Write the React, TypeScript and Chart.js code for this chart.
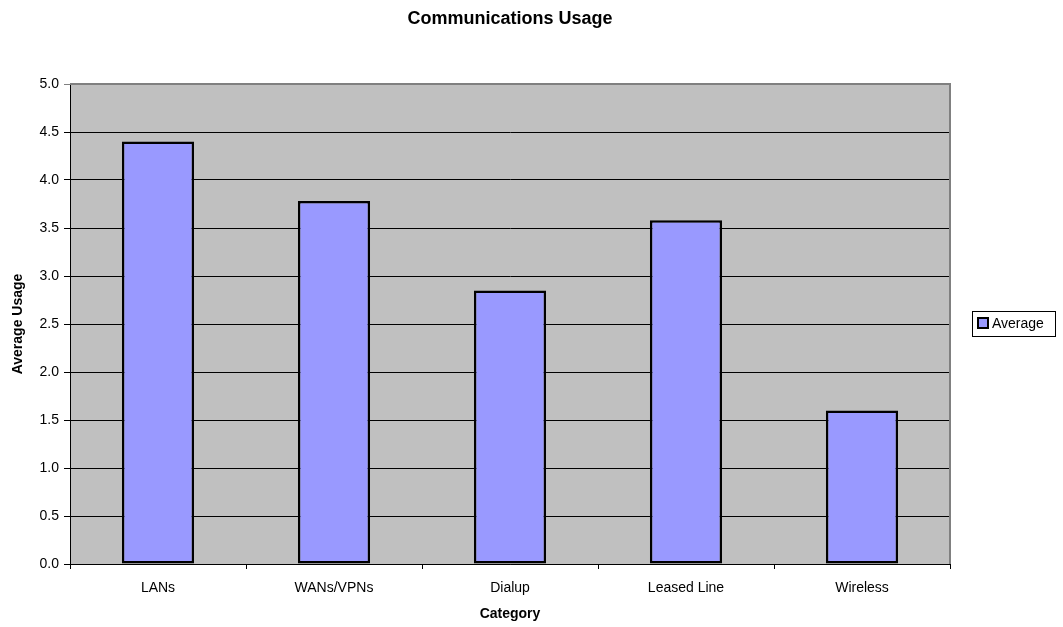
import React, { useEffect, useRef } from "react";
import { Chart, registerables } from "chart.js";

Chart.register(...registerables);

const categories = ["LANs", "WANs/VPNs", "Dialup", "Leased Line", "Wireless"];
const averageValues = [4.4, 3.78, 2.85, 3.58, 1.6];
const seriesLabel = "Average";
const chartTitle = "Communications Usage";
const xTitle = "Category";
const yTitle = "Average Usage";

const FONT = "'Liberation Sans', Arial, sans-serif";

const plotBackground = {
  id: "plotBackground",
  beforeDraw(chart: any) {
    const { ctx, chartArea } = chart;
    ctx.save();
    ctx.fillStyle = "#C0C0C0";
    ctx.fillRect(chartArea.left, chartArea.top, chartArea.right - chartArea.left, chartArea.bottom - chartArea.top);
    ctx.restore();
  },
  afterDatasetsDraw(chart: any) {
    const { ctx, chartArea } = chart;
    ctx.save();
    ctx.strokeStyle = "#808080";
    ctx.lineWidth = 2;
    ctx.beginPath();
    ctx.moveTo(chartArea.left, chartArea.top);
    ctx.lineTo(chartArea.right, chartArea.top);
    ctx.lineTo(chartArea.right, chartArea.bottom);
    ctx.stroke();
    ctx.restore();
  },
};

const boxedLegend = {
  id: "boxedLegend",
  afterDraw(chart: any) {
    const { ctx } = chart;
    const ds = chart.data.datasets[0];
    ctx.save();
    ctx.strokeStyle = "#000";
    ctx.lineWidth = 1;
    ctx.strokeRect(972.5, 311.5, 83, 25);
    ctx.fillStyle = ds.backgroundColor;
    ctx.fillRect(978, 318, 10, 10);
    ctx.lineWidth = 2;
    ctx.strokeRect(978, 318, 10, 10);
    ctx.fillStyle = "#000";
    ctx.font = `14px ${FONT}`;
    ctx.textBaseline = "middle";
    ctx.textAlign = "left";
    ctx.fillText(ds.label, 992, 324.5);
    ctx.restore();
  },
};

export default function App() {
  const canvasRef = useRef<HTMLCanvasElement | null>(null);

  useEffect(() => {
    if (!canvasRef.current) return;
    const chart = new Chart(canvasRef.current, {
      type: "bar",
      data: {
        labels: categories,
        datasets: [
          {
            label: seriesLabel,
            data: averageValues,
            backgroundColor: "#9999FF",
            borderColor: "#000000",
            borderWidth: 2.5,
            borderSkipped: false,
            barPercentage: 0.41,
            categoryPercentage: 1,
          },
        ],
      },
      options: {
        responsive: false,
        animation: false,
        layout: { padding: { left: 0, right: 113, top: 0, bottom: 0 } },
        plugins: {
          legend: { display: false },
          tooltip: { enabled: false },
          title: {
            display: true,
            text: chartTitle,
            fullSize: false,
            color: "#000",
            font: { family: FONT, size: 18, weight: "bold" },
            padding: { top: 8, bottom: 54.4 },
          },
        },
        scales: {
          x: {
            offset: true,
            grid: {
              display: true,
              drawOnChartArea: false,
              drawTicks: true,
              tickLength: 5,
              color: "#000",
              offset: true,
            },
            border: { display: true, color: "#000", width: 1 },
            ticks: {
              color: "#000",
              font: { family: FONT, size: 14 },
              padding: 11,
              maxRotation: 0,
            },
            title: {
              display: true,
              text: xTitle,
              color: "#000",
              font: { family: FONT, size: 14, weight: "bold" },
              padding: { top: 0, bottom: 4 },
            },
            afterFit(scale: any) {
              scale.height = 63;
            },
          },
          y: {
            min: 0,
            max: 5,
            grid: {
              color: (c: any) => (c.tick && c.tick.value === 5 ? "#808080" : "#000"),
              lineWidth: 1,
              drawTicks: true,
              tickLength: 6,
            },
            border: { display: true, color: "#000", width: 1 },
            ticks: {
              stepSize: 0.5,
              color: "#000",
              font: { family: FONT, size: 14 },
              padding: 5,
              callback: (v: any) => Number(v).toFixed(1),
            },
            title: {
              display: true,
              text: yTitle,
              color: "#000",
              font: { family: FONT, size: 14, weight: "bold" },
              padding: { top: 10, bottom: 0 },
            },
            afterFit(scale: any) {
              scale.width = 70;
            },
          },
        },
      },
      plugins: [plotBackground, boxedLegend],
    });
    return () => chart.destroy();
  }, []);

  return (
    <div style={{ position: "absolute", left: 0, top: 0, width: 1063, height: 627, background: "#fff" }}>
      <canvas ref={canvasRef} width={1063} height={627} style={{ display: "block" }} />
    </div>
  );
}
